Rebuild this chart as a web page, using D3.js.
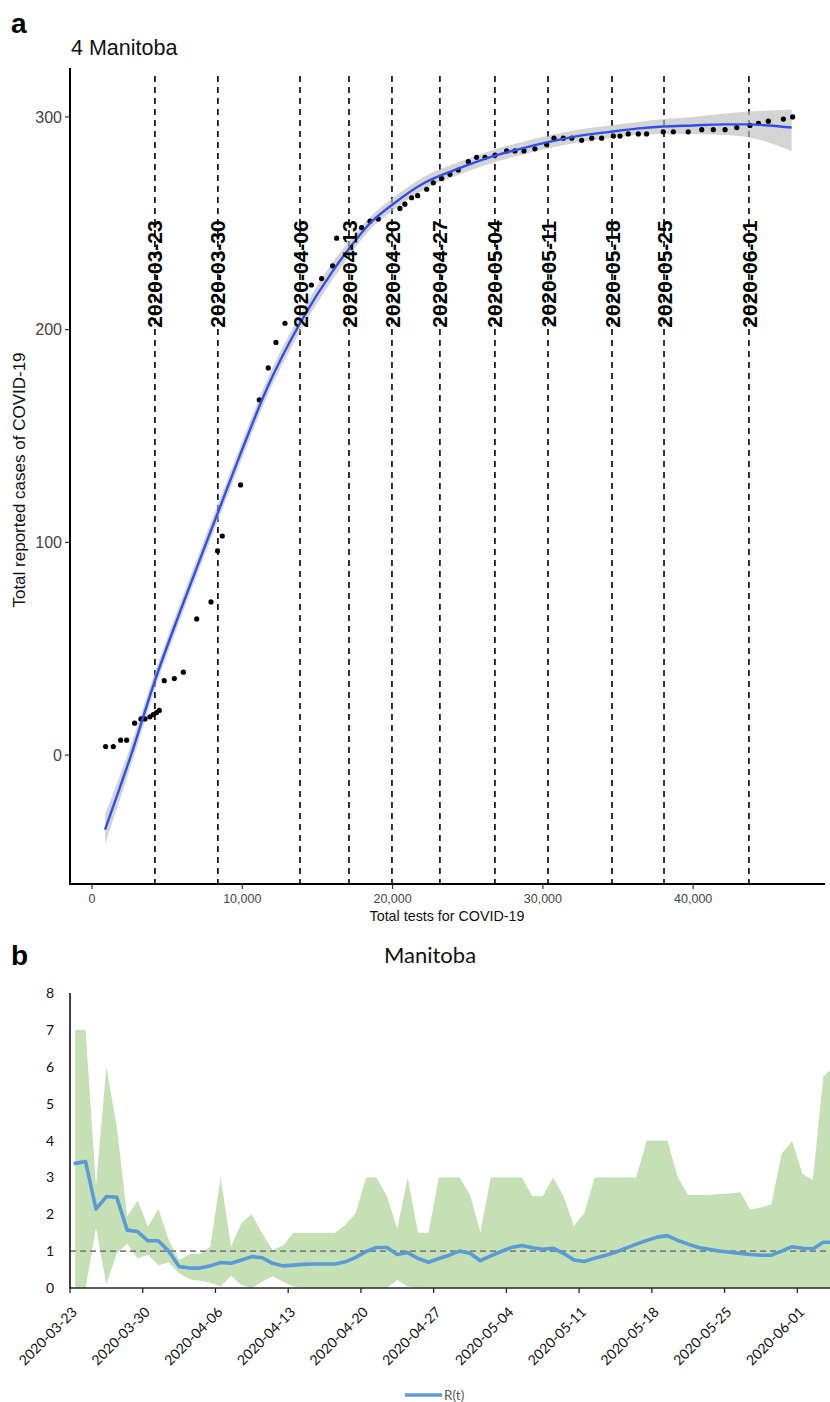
<!DOCTYPE html>
<html>
<head>
<meta charset="utf-8">
<script src="https://cdn.jsdelivr.net/npm/d3@7"></script>
<style>
  body { margin: 0; background: #fff; }
  svg { display: block; }
</style>
</head>
<body>
<svg id="chart" width="830" height="1402"></svg>
<script>
// ---- panel a : cases vs tests ----
const testsPts = [910, 1420, 1910, 2310, 2840, 3260, 3530, 3860, 4080, 4300, 4480, 4810, 5480, 6080, 6970, 7920, 8360, 8670,
  9890, 11130, 11730, 12240, 12840, 14600, 15280, 16010, 16280, 17940, 18500, 19050, 20490, 20820, 21270, 21670,
  22270, 22710, 23270, 23820, 24370, 25040, 25590, 26150, 26810, 27590, 28140, 28740, 29470, 30250, 30740, 31360, 31920,
  32580, 33250, 33910, 34690, 35130, 35680, 36350, 36900, 38010, 38680, 39670, 40570, 41340, 42120, 42900, 43780, 44340,
  45000, 46000, 46620];
const casesPts = [4, 4, 7, 7, 15, 17, 17, 18, 19, 20, 21, 35, 36, 39, 64, 72, 96, 103,
  127, 167, 182, 194, 203, 221, 224, 230, 243, 248, 251, 252, 257, 259, 262, 263,
  266, 269, 271, 273, 275, 279, 281, 281, 282, 284, 284, 284, 285, 287, 290, 290, 290,
  289, 290, 290, 291, 291, 292, 292, 292, 293, 293, 293, 294, 294, 294, 295, 296, 297,
  298, 299, 300];

// loess fit and its band
const fitTests = [870, 2600, 4190, 6000, 8380, 9850, 11620, 13840, 16060, 17100, 18500, 19960, 22040, 24500, 26930,
  28500, 30250, 32300, 34460, 36200, 38010, 40000, 42000, 43670, 45000, 46550];
const fitCases = [-35, 0, 35, 70, 114, 141, 172, 203, 228, 238, 250, 258.6, 268.7, 276, 282,
  285, 288, 291, 293, 294.5, 295.5, 296, 296.5, 296.5, 296, 295];
const fitLow = [-42, -5, 31, 66, 110, 137, 168, 199, 224, 234.5, 247, 255.6, 265.7, 273, 279,
  282, 285, 288, 290, 291.5, 292, 292, 291.5, 290.5, 288, 284];
const fitHigh = [-28, 5, 39, 74, 118, 145, 176, 207, 232, 241.5, 253, 261.6, 271.7, 279, 285,
  288, 291, 294, 296, 297.5, 299, 300, 301.5, 302.5, 303, 303.5];

const markDates = ["2020-03-23", "2020-03-30", "2020-04-06", "2020-04-13", "2020-04-20", "2020-04-27",
  "2020-05-04", "2020-05-11", "2020-05-18", "2020-05-25", "2020-06-01"];
const markTests = [4190, 8380, 13840, 17100, 19960, 23150, 26810, 30340, 34600, 38060, 43710];

const yTicksA = [0, 100, 200, 300];
const xTicksA = [0, 10000, 20000, 30000, 40000];

// ---- panel b : R(t) ----
const startDay = "2020-03-23";
const rValues = [3.38, 3.43, 2.14, 2.48, 2.46, 1.57, 1.53, 1.28, 1.28, 1.0,
  0.58, 0.54, 0.54, 0.60, 0.69, 0.67, 0.76, 0.85, 0.82, 0.67,
  0.60, 0.62, 0.64, 0.65, 0.65, 0.65, 0.71, 0.83, 0.99, 1.10,
  1.10, 0.91, 0.96, 0.80, 0.70, 0.80, 0.89, 1.0, 0.94, 0.74,
  0.87, 0.99, 1.10, 1.15, 1.09, 1.05, 1.08, 0.94, 0.76, 0.72,
  0.81, 0.88, 0.97, 1.08, 1.19, 1.29, 1.38, 1.42, 1.29, 1.19,
  1.10, 1.05, 1.00, 0.97, 0.94, 0.91, 0.89, 0.89, 1.00, 1.12,
  1.08, 1.06, 1.24, 1.24];
const rUpper = [7.0, 7.0, 2.75, 6.0, 4.38, 1.94, 2.37, 1.66, 2.14, 1.31,
  0.76, 0.92, 0.92, 1.12, 3.0, 1.12, 1.77, 2.0, 1.48, 1.03,
  1.15, 1.5, 1.5, 1.5, 1.5, 1.5, 1.71, 2.03, 3.0, 3.0,
  2.49, 1.61, 3.0, 1.5, 1.5, 3.0, 3.0, 3.0, 2.52, 1.51,
  3.0, 3.0, 3.0, 3.0, 2.49, 2.49, 3.0, 2.49, 1.68, 2.03,
  3.0, 3.0, 3.0, 3.0, 3.0, 4.0, 4.0, 4.0, 3.0, 2.52,
  2.52, 2.53, 2.55, 2.56, 2.6, 2.13, 2.18, 2.27, 3.65, 3.98,
  3.09, 2.93, 5.73, 6.0];
const rLower = [0, 0, 1.62, 0.1, 0.94, 1.2, 0.8, 0.91, 0.62, 0.69,
  0.4, 0.24, 0.2, 0.14, 0.04, 0.33, 0.08, 0, 0.17, 0.32,
  0.17, 0.04, 0, 0, 0, 0, 0, 0, 0, 0,
  0, 0.22, 0.04, 0, 0, 0, 0, 0, 0, 0,
  0, 0, 0, 0, 0, 0, 0, 0, 0, 0,
  0, 0, 0, 0, 0, 0, 0, 0, 0, 0,
  0, 0, 0, 0, 0, 0, 0, 0, 0, 0,
  0, 0, 0, 0];
const yTicksB = [0, 1, 2, 3, 4, 5, 6, 7, 8];
const weekTicks = ["2020-03-23", "2020-03-30", "2020-04-06", "2020-04-13", "2020-04-20", "2020-04-27",
  "2020-05-04", "2020-05-11", "2020-05-18", "2020-05-25", "2020-06-01"];

const svg = d3.select("#chart");
const parse = d3.utcParse("%Y-%m-%d");
const sans = "'Liberation Sans', Arial, sans-serif";
const cal = "Lato, 'Open Sans', sans-serif";

// ================= panel a =================
const xA = d3.scaleLinear().domain([-1460, 48770]).range([70, 825]);
const yA = d3.scaleLinear().domain([-60.6, 323]).range([884, 68]);

svg.append("text").attr("x", 11).attr("y", 33)
  .style("font", "bold 28px " + sans).text("a");
svg.append("text").attr("x", 71).attr("y", 55)
  .style("font", "21.5px " + sans).attr("fill", "#111").text("4 Manitoba");

// dashed date markers
svg.selectAll("line.mark")
  .data(markTests)
  .join("line")
    .attr("class", "mark")
    .attr("x1", d => xA(d)).attr("x2", d => xA(d))
    .attr("y1", 76).attr("y2", 884)
    .attr("stroke", "#000")
    .attr("stroke-width", 1.6)
    .attr("stroke-dasharray", "6,5");

// CI band + loess line
const fitData = fitTests.map((t, i) => ({t: t, c: fitCases[i], lo: fitLow[i], hi: fitHigh[i]}));
svg.append("path")
  .datum(fitData)
  .attr("d", d3.area().curve(d3.curveMonotoneX)
    .x(d => xA(d.t)).y0(d => yA(d.lo)).y1(d => yA(d.hi)))
  .attr("fill", "#bdbdbd")
  .attr("fill-opacity", 0.65);

// points
svg.selectAll("circle.pt")
  .data(testsPts.map((t, i) => ({t: t, c: casesPts[i]})))
  .join("circle")
    .attr("class", "pt")
    .attr("cx", d => xA(d.t))
    .attr("cy", d => yA(d.c))
    .attr("r", 2.6)
    .attr("fill", "#000");

svg.append("path")
  .datum(fitData)
  .attr("d", d3.line().curve(d3.curveMonotoneX).x(d => xA(d.t)).y(d => yA(d.c)))
  .attr("fill", "none")
  .attr("stroke", "#2f4fe8")
  .attr("stroke-width", 2.4);

// marker labels
svg.selectAll("text.mark")
  .data(markDates)
  .join("text")
    .attr("class", "mark")
    .attr("transform", (d, i) => `translate(${xA(markTests[i])},274) rotate(-90)`)
    .attr("text-anchor", "middle")
    .attr("dy", "0.36em")
    .style("font", "bold 21px " + sans)
    .attr("fill", "#000")
    .text(d => d);

// axes
const axA = svg.append("g");
axA.append("line").attr("x1", 70).attr("x2", 70).attr("y1", 68).attr("y2", 884)
  .attr("stroke", "#000").attr("stroke-width", 2);
axA.append("line").attr("x1", 69).attr("x2", 825).attr("y1", 884).attr("y2", 884)
  .attr("stroke", "#000").attr("stroke-width", 2);

axA.selectAll("line.yt").data(yTicksA).join("line")
  .attr("class", "yt")
  .attr("x1", 65).attr("x2", 70)
  .attr("y1", d => yA(d)).attr("y2", d => yA(d))
  .attr("stroke", "#333").attr("stroke-width", 1.2);
axA.selectAll("text.yt").data(yTicksA).join("text")
  .attr("class", "yt")
  .attr("x", 62).attr("y", d => yA(d))
  .attr("dy", "0.36em")
  .attr("text-anchor", "end")
  .style("font", "16px " + sans)
  .attr("fill", "#444")
  .text(d => d);

axA.selectAll("line.xt").data(xTicksA).join("line")
  .attr("class", "xt")
  .attr("x1", d => xA(d)).attr("x2", d => xA(d))
  .attr("y1", 884).attr("y2", 889)
  .attr("stroke", "#333").attr("stroke-width", 1.2);
axA.selectAll("text.xt").data(xTicksA).join("text")
  .attr("class", "xt")
  .attr("x", d => xA(d)).attr("y", 903)
  .attr("text-anchor", "middle")
  .style("font", "12.5px " + sans)
  .attr("fill", "#444")
  .text(d => d3.format(",")(d));

svg.append("text")
  .attr("x", 447).attr("y", 921)
  .attr("text-anchor", "middle")
  .style("font", "14.3px " + sans)
  .attr("fill", "#111")
  .text("Total tests for COVID-19");
svg.append("text")
  .attr("transform", "translate(25,480) rotate(-90)")
  .attr("text-anchor", "middle")
  .style("font", "17px " + sans)
  .attr("fill", "#111")
  .text("Total reported cases of COVID-19");

// ================= panel b =================
const day0 = parse(startDay);
const rData = rValues.map((v, i) => ({
  d: d3.utcHour.offset(d3.utcDay.offset(day0, i), 12),
  r: v, lo: rLower[i], hi: rUpper[i]
}));

const xB = d3.scaleUtc()
  .domain([day0, d3.utcDay.offset(day0, 74)])
  .range([70, 70 + 74 * 10.39]);
const yB = d3.scaleLinear().domain([0, 8]).range([1288, 993]);

svg.append("text").attr("x", 11).attr("y", 965)
  .style("font", "bold 28px " + sans).text("b");
svg.append("text").attr("x", 430).attr("y", 963)
  .attr("text-anchor", "middle")
  .style("font", "22px " + cal)
  .attr("fill", "#111")
  .text("Manitoba");

svg.append("path")
  .datum(rData)
  .attr("d", d3.area().x(d => xB(d.d)).y0(d => yB(d.lo)).y1(d => yB(d.hi)))
  .attr("fill", "#c5e0b4");

svg.append("line")
  .attr("x1", 70).attr("x2", 830)
  .attr("y1", yB(1)).attr("y2", yB(1))
  .attr("stroke", "#7f7f7f")
  .attr("stroke-width", 1.8)
  .attr("stroke-dasharray", "6,4");

svg.append("path")
  .datum(rData)
  .attr("d", d3.line().x(d => xB(d.d)).y(d => yB(d.r)))
  .attr("fill", "none")
  .attr("stroke", "#5b9bd5")
  .attr("stroke-width", 3.6)
  .attr("stroke-linejoin", "round")
  .attr("stroke-linecap", "round");

// axes b
svg.append("line").attr("x1", 70).attr("x2", 70).attr("y1", 993).attr("y2", 1288)
  .attr("stroke", "#000").attr("stroke-width", 1.5);
svg.append("line").attr("x1", 69).attr("x2", 830).attr("y1", 1288).attr("y2", 1288)
  .attr("stroke", "#262626").attr("stroke-width", 1.5);

svg.selectAll("text.ytb").data(yTicksB).join("text")
  .attr("class", "ytb")
  .attr("x", 54).attr("y", d => yB(d))
  .attr("dy", "0.36em")
  .attr("text-anchor", "end")
  .style("font", "14px " + cal)
  .attr("fill", "#111")
  .text(d => d);

const wk = weekTicks.map(parse);
svg.selectAll("line.xtb").data(wk).join("line")
  .attr("class", "xtb")
  .attr("x1", d => xB(d)).attr("x2", d => xB(d))
  .attr("y1", 1288).attr("y2", 1293)
  .attr("stroke", "#262626").attr("stroke-width", 1.3);
svg.selectAll("text.xtb").data(wk).join("text")
  .attr("class", "xtb")
  .attr("transform", d => `translate(${xB(d) + 8},1313) rotate(-45)`)
  .attr("text-anchor", "end")
  .style("font", "14px " + cal)
  .attr("fill", "#111")
  .text(d => d3.utcFormat("%Y-%m-%d")(d));

// legend
svg.append("line")
  .attr("x1", 405).attr("x2", 442)
  .attr("y1", 1395).attr("y2", 1395)
  .attr("stroke", "#5b9bd5").attr("stroke-width", 3.6);
svg.append("text")
  .attr("x", 444).attr("y", 1400)
  .style("font", "13.5px " + cal)
  .attr("fill", "#595959")
  .text("R(t)");
</script>
</body>
</html>
